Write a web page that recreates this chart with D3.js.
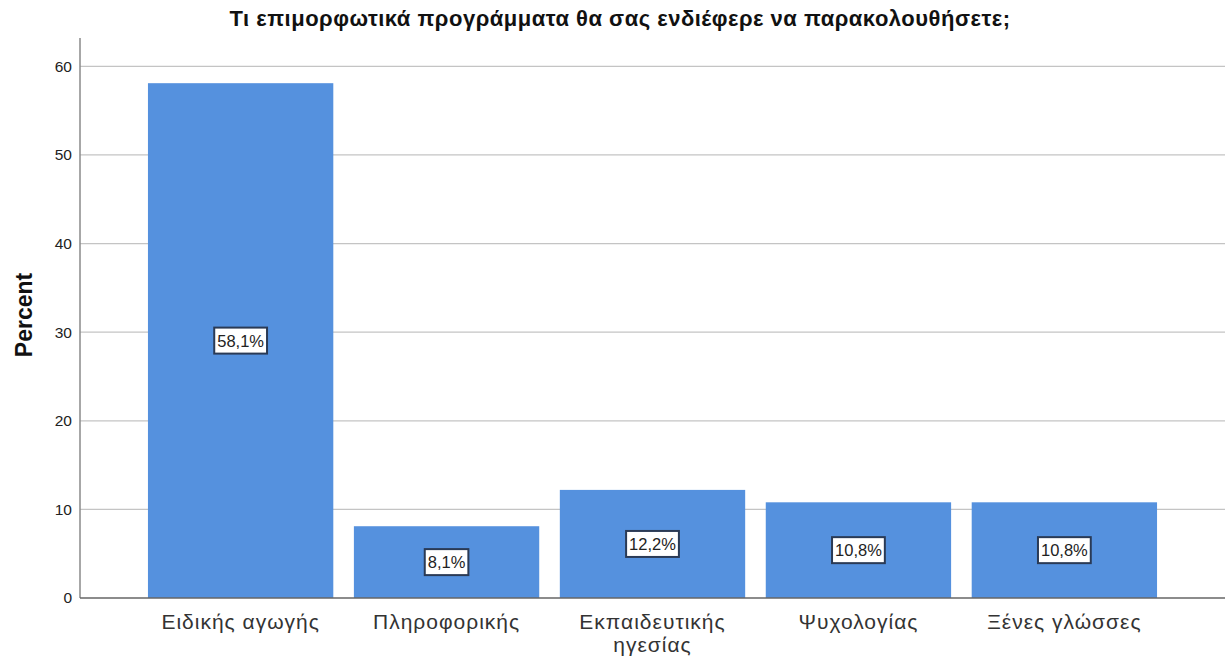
<!DOCTYPE html>
<html><head><meta charset="utf-8">
<script src="https://cdn.jsdelivr.net/npm/d3@7"></script>
<style>body{margin:0;background:#fff}svg{display:block}</style>
</head><body>
<svg id="c" width="1231" height="659"></svg>
<script>
const categories = [["Ειδικής αγωγής"],["Πληροφορικής"],["Εκπαιδευτικής","ηγεσίας"],["Ψυχολογίας"],["Ξένες γλώσσες"]];
const values = [58.1, 8.1, 12.2, 10.8, 10.8];
const valueLabels = ["58,1%","8,1%","12,2%","10,8%","10,8%"];
const yTicks = [0,10,20,30,40,50,60];
const title = "Τι επιμορφωτικά προγράμματα θα σας ενδιέφερε να παρακολουθήσετε;";
const yTitle = "Percent";

(function(){
const svg = d3.select("#c");
const font = "'Liberation Sans', Arial, sans-serif";
const mLeft = 80, mRight = 1225, mTop = 38, mBottom = 598;

const x = d3.scaleBand().domain(d3.range(values.length)).range([mLeft, mRight]).paddingInner(0.1).paddingOuter(0.33);
const y = d3.scaleLinear().domain([0, 63.2]).range([mBottom, mTop]);

svg.append("g").selectAll("line").data(yTicks.filter(d=>d>0)).join("line")
  .attr("x1", mLeft).attr("x2", mRight).attr("y1", d=>y(d)).attr("y2", d=>y(d))
  .attr("stroke", "#c4c4c4").attr("stroke-width", 1.3);

const ya = svg.append("g").attr("transform", `translate(${mLeft},0)`)
  .call(d3.axisLeft(y).tickValues(yTicks).tickSize(0).tickPadding(8));
ya.select(".domain").remove();
ya.selectAll("text").attr("font-family", font).attr("font-size", 15.5).attr("fill", "#222");
svg.append("line").attr("x1", mLeft).attr("x2", mLeft).attr("y1", mTop).attr("y2", mBottom)
  .attr("stroke", "#8a8a8a").attr("stroke-width", 1.5);

svg.append("g").selectAll("rect").data(values).join("rect")
  .attr("x", (d,i)=>x(i)).attr("width", x.bandwidth())
  .attr("y", d=>y(d)).attr("height", d=>y(0)-y(d))
  .attr("fill", "#5591de");

svg.append("line").attr("x1", mLeft).attr("x2", mRight).attr("y1", mBottom).attr("y2", mBottom)
  .attr("stroke", "#666").attr("stroke-width", 1.5);

const cl = svg.append("g").selectAll("text").data(categories).join("text")
  .attr("x", (d,i)=>x(i)+x.bandwidth()/2).attr("y", 629)
  .attr("text-anchor", "middle").attr("font-family", font).attr("font-size", 21)
  .attr("letter-spacing", 1).attr("fill", "#333");
cl.each(function(d){
  const t = d3.select(this);
  d.forEach((s,k)=>t.append("tspan").attr("x", t.attr("x")).attr("dy", k===0?0:23).text(s));
});

const vl = svg.append("g").selectAll("g").data(values).join("g")
  .attr("transform", (d,i)=>`translate(${x(i)+x.bandwidth()/2},${(y(d)+y(0))/2})`);
vl.each(function(d,i){
  const g = d3.select(this);
  const t = g.append("text").attr("text-anchor","middle").attr("dy","0.36em")
    .attr("font-family", font).attr("font-size", 16.5).attr("fill","#222").text(valueLabels[i]);
  const w = t.node().getComputedTextLength();
  g.insert("rect","text").attr("x", -w/2-3).attr("y", -13).attr("width", w+6).attr("height", 26)
    .attr("fill","#fff").attr("stroke","#2a3a55").attr("stroke-width",2);
});

svg.append("text").attr("x", 620).attr("y", 26).attr("text-anchor","middle")
  .attr("font-family", font).attr("font-weight","bold").attr("font-size", 22)
  .attr("letter-spacing", 0.5).attr("fill","#111").text(title);
svg.append("text").attr("transform","translate(32,315) rotate(-90)").attr("text-anchor","middle")
  .attr("font-family", font).attr("font-weight","bold").attr("font-size", 23).attr("fill","#111").text(yTitle);
})();
</script>
</body></html>
